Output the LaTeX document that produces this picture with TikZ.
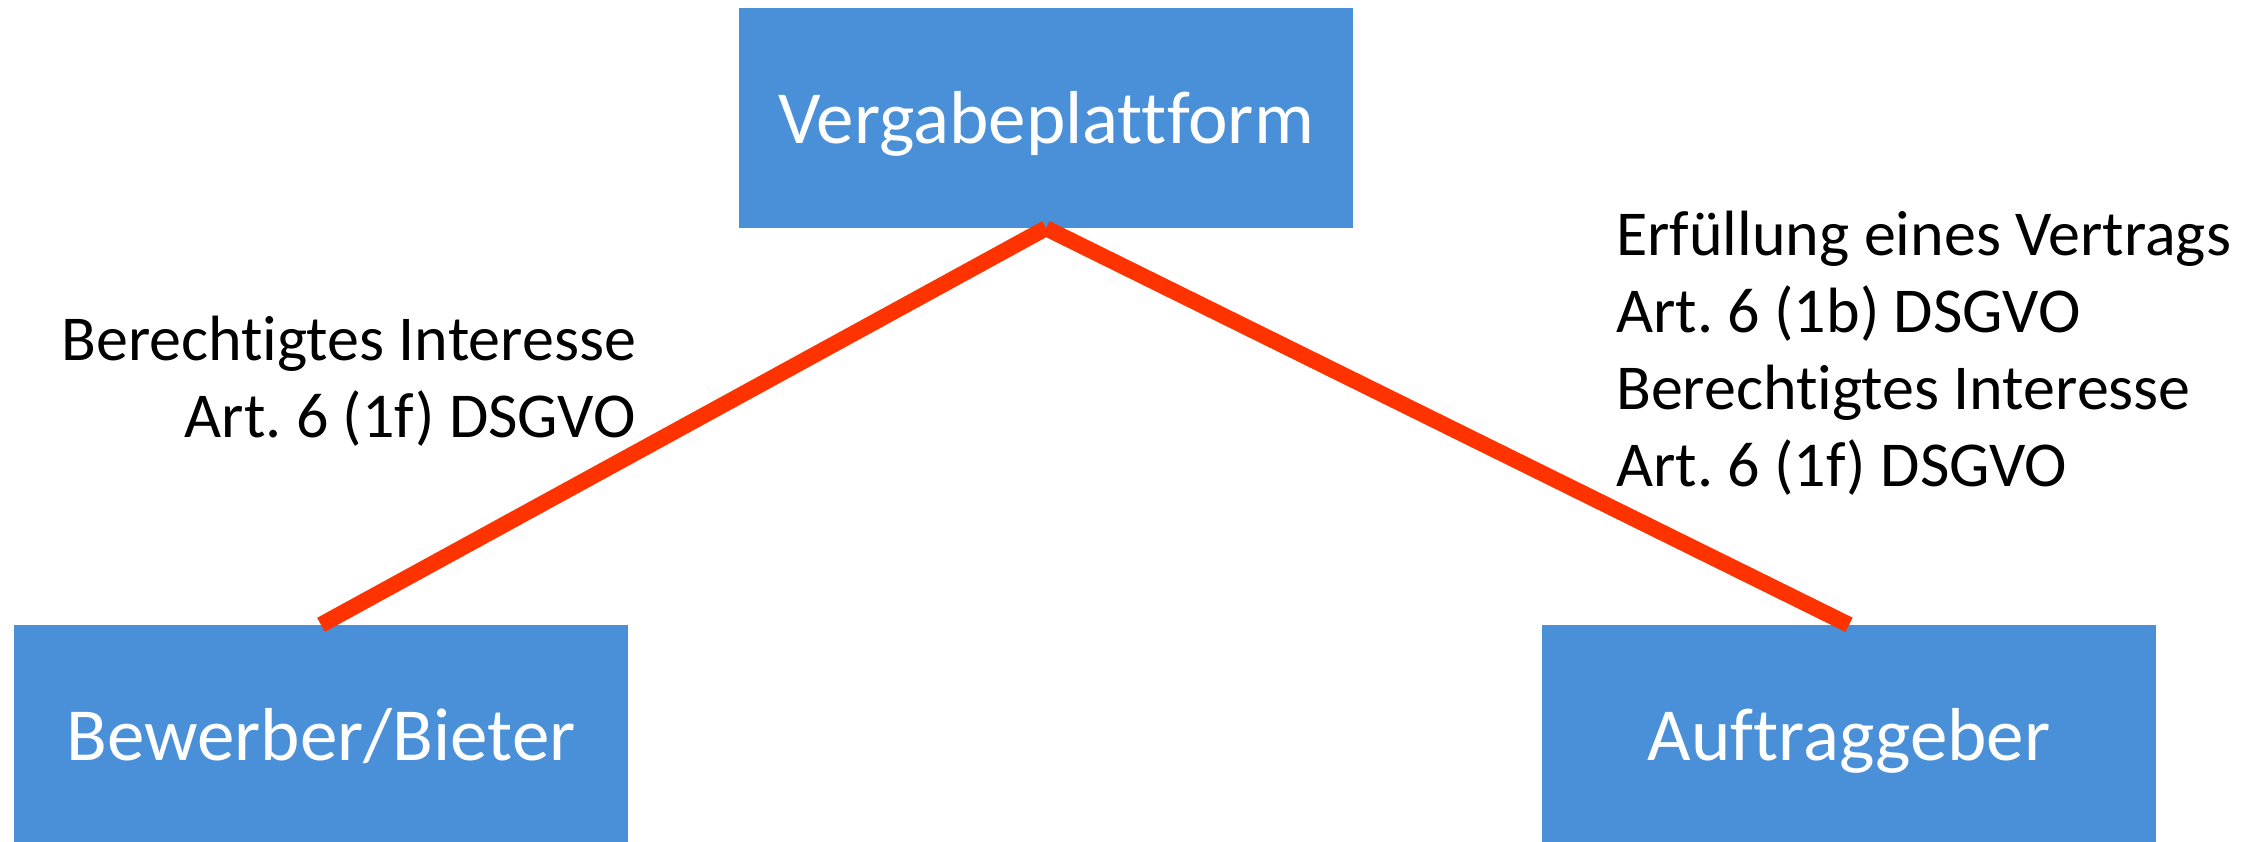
\documentclass[tikz,border=0pt]{standalone}
\usepackage{fontspec}
\setmainfont{Carlito}[Ligatures=NoCommon]
\frenchspacing
\definecolor{boxblue}{RGB}{74,144,217}
\definecolor{linkred}{RGB}{255,51,0}
\begin{document}
\begin{tikzpicture}[x=1bp,y=-1bp,
  party/.style={rectangle, fill=boxblue, draw=none, inner sep=0pt,
    minimum width=614bp, minimum height=220bp, text=white,
    text height=50bp, text depth=0bp,
    font=\fontsize{75bp}{90bp}\selectfont},
  link/.style={draw=linkred, line width=16bp, line cap=butt},
  basis/.style={inner sep=0pt, text=black,
    font=\fontsize{64bp}{77bp}\selectfont}]
  \useasboundingbox (0,0) rectangle (2257,841);
  \clip (0,0) rectangle (2257,841);

  % parties
  \node[party] (platform) at (1046,118) {Vergabeplattform};
  \node[party] (bidder)   at (321,735)  {Bewerber/Bieter};
  \node[party] (client)   at (1849,735) {Auftraggeber};

  % legal bases of the data flows
  \draw[link] (platform.south) -- (bidder.north);
  \draw[link] (platform.south) -- (client.north);

  % base anchor sits on the last line of a multi-line node
  \node[basis, anchor=base east, align=right] (leftbasis) at (636,437)
    {Berechtigtes Interesse\\Art. 6 (1f) DSGVO};
  \node[basis, anchor=base west, align=left] (rightbasis) at (1616,486)
    {Erfüllung eines Vertrags\\Art. 6 (1b) DSGVO\\Berechtigtes Interesse\\Art. 6 (1f) DSGVO};
\end{tikzpicture}
\end{document}
